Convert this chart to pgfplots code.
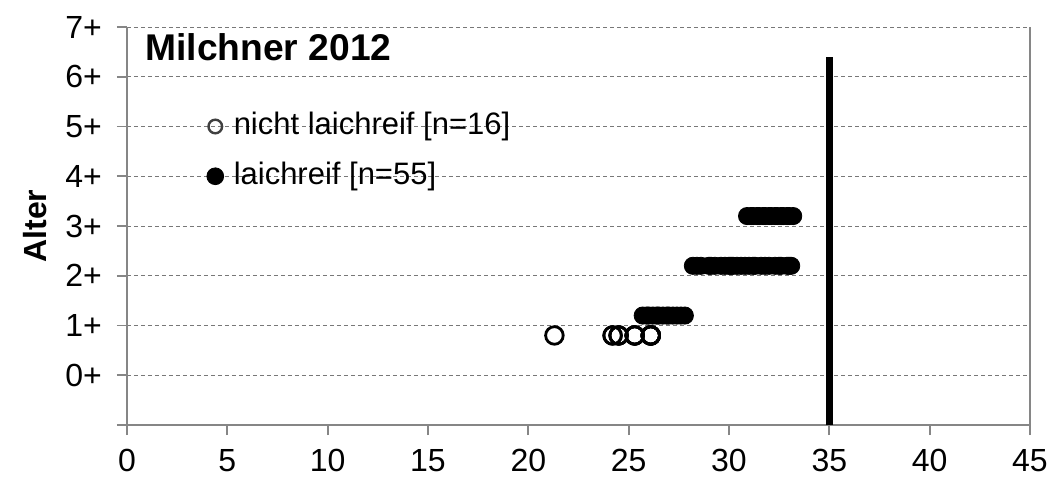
\documentclass[border=0pt]{standalone}
\usepackage{fontspec}
\setmainfont{Liberation Sans}
\usepackage{pgfplots}
\pgfplotsset{compat=1.18}

\definecolor{AX}{RGB}{134,134,134}
\definecolor{GR}{RGB}{120,120,120}

% open = nicht laichreif, filled = laichreif
\pgfplotstableread{
x y
21.3 0.8
24.2 0.8
24.2 0.8
24.5 0.8
24.5 0.8
24.5 0.8
25.3 0.8
25.3 0.8
25.3 0.8
25.3 0.8
26.1 0.8
26.1 0.8
26.1 0.8
26.1 0.8
26.1 0.8
26.1 0.8
}\openpts

\pgfplotstableread{
x y
25.7 1.2
25.9 1.2
26.0 1.2
26.2 1.2
26.4 1.2
26.5 1.2
26.7 1.2
26.9 1.2
27.0 1.2
27.2 1.2
27.4 1.2
27.6 1.2
27.8 1.2
28.2 2.2
28.4 2.2
28.6 2.2
29.0 2.2
29.1 2.2
29.3 2.2
29.6 2.2
29.8 2.2
30.0 2.2
30.1 2.2
30.2 2.2
30.4 2.2
30.6 2.2
30.8 2.2
31.0 2.2
31.2 2.2
31.3 2.2
31.6 2.2
31.8 2.2
32.0 2.2
32.3 2.2
32.5 2.2
32.6 2.2
32.9 2.2
33.0 2.2
33.1 2.2
30.9 3.2
31.1 3.2
31.2 3.2
31.4 3.2
31.5 3.2
31.7 3.2
31.8 3.2
32.0 3.2
32.1 3.2
32.3 3.2
32.4 3.2
32.6 3.2
32.7 3.2
32.9 3.2
33.0 3.2
33.2 3.2
}\fullpts

\begin{document}
\begin{tikzpicture}
\begin{axis}[
  scale only axis,
  width=451.5pt, height=199pt,
  xmin=0, xmax=45, ymin=-1, ymax=7,
  axis lines=left,
  axis line style={-, draw=AX, line width=0.9pt},
  tick align=outside,
  major tick length=5pt,
  tick style={draw=AX, line width=0.9pt},
  xtick={0,5,...,45},
  ytick={-1,0,...,7},
  yticklabels={,0+,1+,2+,3+,4+,5+,6+,7+},
  ymajorgrids,
  grid style={draw=GR, line width=0.5pt, dash pattern=on 2pt off 1.5pt},
  ticklabel style={font=\fontsize{16}{18}\selectfont},
  xticklabel style={yshift=-3.5pt},
  yticklabel style={xshift=-4pt},
  /pgf/number format/assume math mode=true,
  ylabel={\bfseries Alter},
  ylabel style={font=\fontsize{16}{18}\selectfont, at={(rel axis cs:-0.102,0.5)}, anchor=center},
  clip=false,
]
\draw[AX, line width=0.9pt] (rel axis cs:1,0) -- (rel axis cs:1,1);
\draw[AX, line width=0.9pt] (axis cs:45,-1) -- ++(0,-5pt);

% Mindestmass
\addplot[black, line width=3.8pt] coordinates {(35,-1) (35,6.4)};

\addplot[only marks, mark=o, mark size=4.4pt, mark options={draw=black, line width=1.4pt}]
  table {\openpts};
\addplot[only marks, mark=*, mark size=4.3pt, mark options={draw=black, fill=black}]
  table {\fullpts};

% legend markers
\addplot[only marks, mark=o, mark size=3.4pt, mark options={draw=black!75, line width=1.2pt}]
  coordinates {(4.4,5)};
\addplot[only marks, mark=*, mark size=4.2pt, mark options={draw=black, fill=black}]
  coordinates {(4.4,4)};
\node[anchor=west, inner sep=0pt, font=\fontsize{15.5}{18}\selectfont] at (axis cs:5.3,5) {nicht laichreif [n=16]};
\node[anchor=west, inner sep=0pt, font=\fontsize{15.5}{18}\selectfont] at (axis cs:5.3,4) {laichreif [n=55]};

\node[anchor=west, inner sep=0pt, font=\fontsize{18.6}{21}\selectfont\bfseries] at (axis cs:0.9,6.6) {Milchner 2012};
\end{axis}
\pgfresetboundingbox
\path (-63.5pt,-26pt) rectangle (462pt,212.5pt);
\end{tikzpicture}
\end{document}
